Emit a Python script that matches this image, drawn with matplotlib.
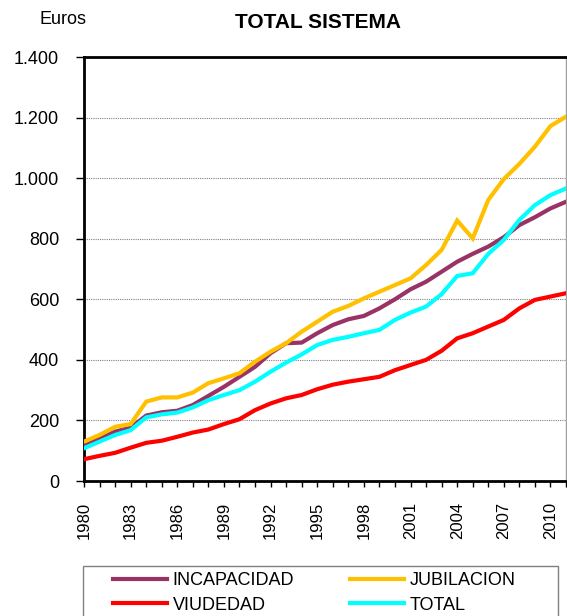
import matplotlib
matplotlib.use("Agg")
import matplotlib.pyplot as plt
from matplotlib.ticker import FuncFormatter, FixedLocator
from matplotlib.patches import Rectangle

plt.rcParams['font.family'] = ['Liberation Sans', 'DejaVu Sans']

years = list(range(1980, 2012))
incapacidad = [116, 140, 163, 176, 216, 227, 232, 251, 281, 311, 344, 377, 422, 455, 457, 488,
               515, 534, 545, 570, 600, 633, 658, 691, 724, 750, 774, 805, 845, 871, 900, 922]
jubilacion = [130, 152, 179, 188, 262, 276, 276, 292, 323, 339, 356, 394, 427, 455, 493, 526,
              559, 578, 603, 625, 647, 669, 713, 763, 860, 801, 928, 997, 1047, 1104, 1172, 1203]
viudedad = [72, 83, 93, 110, 126, 133, 146, 160, 170, 188, 204, 234, 256, 273, 284, 303,
            318, 328, 336, 344, 366, 383, 400, 430, 471, 488, 510, 532, 570, 598, 609, 620]
total = [108, 130, 152, 168, 210, 220, 226, 243, 267, 284, 300, 328, 361, 391, 418, 449,
         466, 476, 488, 499, 532, 556, 576, 617, 677, 686, 750, 796, 862, 911, 944, 966]

series_names = ['INCAPACIDAD', 'JUBILACION', 'VIUDEDAD', 'TOTAL']
series_values = [incapacidad, jubilacion, viudedad, total]
colors = ['#993366', '#FFC000', '#FF0000', '#00FFFF']

W, H = 567, 616
fig = plt.figure(figsize=(W / 100, H / 100), dpi=100)
ax = fig.add_axes([84 / W, 1 - 481 / H, (566 - 84) / W, (481 - 57) / H])

lines = {}
for name, vals, c in zip(series_names, series_values, colors):
    ln, = ax.plot(years, vals, color=c, lw=3.0, solid_joinstyle='miter', label=name, zorder=3)
    lines[name] = ln

ax.set_xlim(1980, 2011)
ax.set_ylim(0, 1400)
ax.set_yticks(range(0, 1401, 200))
ax.yaxis.set_major_formatter(FuncFormatter(lambda v, p: f"{int(v):,}".replace(",", ".")))
ax.xaxis.set_major_locator(FixedLocator(years))
ax.set_xticklabels([str(y) if (y - 1980) % 3 == 0 else '' for y in years], rotation=90)

ax.tick_params(axis='y', labelsize=13, length=6, width=1, pad=12, direction='out')
ax.tick_params(axis='x', labelsize=12, length=4, width=1, pad=11, direction='out', colors='black')

for yv in range(200, 1400, 200):
    ax.axhline(yv, color='#808080', lw=0.8, ls=(0, (1, 1)), zorder=1)

for s in ['left', 'bottom', 'top']:
    ax.spines[s].set_linewidth(2)
    ax.spines[s].set_color('black')
ax.spines['right'].set_linewidth(1)
ax.spines['right'].set_color('#A0A0A0')

fig.text(63 / W, 1 - 20 / H, 'Euros', fontsize=13, ha='center', va='center')
fig.text(318 / W, 1 - 22 / H, 'TOTAL SISTEMA', fontsize=15, fontweight='bold', ha='center', va='center')

# legend frame
fig.patches.append(Rectangle((83 / W, 1 - 625 / H), (558 - 83) / W, (625 - 566) / H,
                             transform=fig.transFigure, fill=False, edgecolor='#808080', lw=1))
order = ['INCAPACIDAD', 'VIUDEDAD', 'JUBILACION', 'TOTAL']
leg = fig.legend([lines[n] for n in order], order, loc='upper left',
                 bbox_to_anchor=(113 / W, 1 - 572 / H), bbox_transform=fig.transFigure,
                 ncol=2, frameon=False, fontsize=13, handlelength=3.0, handletextpad=0.3,
                 columnspacing=3.1, borderpad=0, borderaxespad=0, labelspacing=0.42)
for lh in leg.get_lines():
    lh.set_linewidth(3)

fig.savefig('out.png', dpi=100)
